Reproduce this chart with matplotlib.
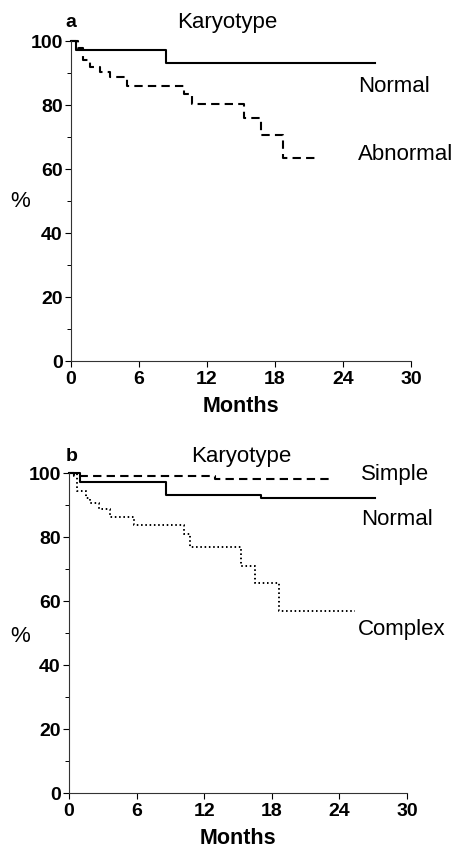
import matplotlib
matplotlib.use("Agg")
import matplotlib.pyplot as plt

plt.rcParams["font.family"] = ["Liberation Sans", "DejaVu Sans"]

# panel a: karyotype normal vs abnormal (Kaplan-Meier steps)
a_normal_t = [0, 0.4, 8.4, 26.8]
a_normal_s = [100, 97.2, 93.0, 93.0]
a_abnormal_t = [0, 0.6, 1.1, 1.7, 2.6, 3.4, 4.9, 10.0, 10.7, 15.3, 16.8, 18.7, 21.6]
a_abnormal_s = [100, 97.7, 94.0, 92.0, 90.4, 88.6, 85.9, 83.4, 80.3, 75.8, 70.6, 63.5, 63.5]

# panel b: simple / normal / complex
b_simple_t = [0, 0.4, 13.0, 23.4]
b_simple_s = [100, 99.0, 98.0, 98.0]
b_normal_t = [0, 1.0, 8.6, 17.0, 27.2]
b_normal_s = [100, 97.1, 93.0, 92.2, 92.2]
b_complex_t = [0, 0.7, 1.5, 1.9, 2.7, 3.6, 5.8, 10.2, 10.7, 15.3, 16.5, 18.6, 25.4]
b_complex_s = [100, 94.5, 92.2, 90.7, 88.6, 86.3, 83.8, 80.8, 76.8, 70.9, 65.7, 57.0, 57.0]

x_ticks = [0, 6, 12, 18, 24, 30]
y_ticks = [0, 20, 40, 60, 80, 100]

W, H = 457, 850
fig = plt.figure(figsize=(W / 100, H / 100), dpi=100)

LAB = 16  # curve labels, titles


def make_axes(left, right, top, bottom):
    # pixel box -> figure fraction
    return fig.add_axes([left / W, 1 - bottom / H, (right - left) / W, (bottom - top) / H])


def style(ax):
    ax.set_xlim(0, 30)
    ax.set_ylim(0, 100)
    for s in ["top", "right"]:
        ax.spines[s].set_visible(False)
    for s in ["left", "bottom"]:
        ax.spines[s].set_linewidth(0.8)
        ax.spines[s].set_color("#333333")
    ax.set_xticks(x_ticks)
    ax.set_yticks(y_ticks)
    ax.set_yticks([10, 30, 50, 70, 90], minor=True)
    ax.tick_params(direction="out", length=4, width=0.8, labelsize=14, pad=2)
    ax.tick_params(axis="x", pad=3)
    ax.tick_params(axis="y", which="minor", direction="out", length=3, width=0.7)
    for lab in ax.get_xticklabels() + ax.get_yticklabels():
        lab.set_fontweight("bold")
    ax.set_xlabel("Months", fontsize=15.5, fontweight="bold", labelpad=6)


ax1 = make_axes(71, 411, 41, 361)
style(ax1)
ax1.step(a_normal_t, a_normal_s, where="post", color="black", lw=1.5, clip_on=False)
ax1.step(a_abnormal_t, a_abnormal_s, where="post", color="black", lw=1.5,
         linestyle=(0, (4, 2.5)), clip_on=False)
ax1.text(0, 105.7, "a", fontsize=14, fontweight="bold", ha="center", va="center")
ax1.text(13.8, 105.7, "Karyotype", fontsize=LAB, ha="center", va="center")
ax1.text(25.3, 85.7, "Normal", fontsize=LAB, ha="left", va="center")
ax1.text(25.3, 64.4, "Abnormal", fontsize=LAB, ha="left", va="center")
ax1.text(-4.5, 49.8, "%", fontsize=LAB, ha="center", va="center")

ax2 = make_axes(69, 407, 473, 793)
style(ax2)
ax2.step(b_simple_t, b_simple_s, where="post", color="black", lw=1.5,
         linestyle=(0, (4, 2.5)), clip_on=False)
ax2.step(b_normal_t, b_normal_s, where="post", color="black", lw=1.5, clip_on=False)
ax2.step(b_complex_t, b_complex_s, where="post", color="black", lw=1.4,
         linestyle=(0, (0.8, 1.4)), clip_on=False)
ax2.text(0.2, 105.2, "b", fontsize=14, fontweight="bold", ha="center", va="center")
ax2.text(15.3, 105.2, "Karyotype", fontsize=LAB, ha="center", va="center")
ax2.text(25.9, 99.5, "Simple", fontsize=LAB, ha="left", va="center")
ax2.text(25.9, 85.5, "Normal", fontsize=LAB, ha="left", va="center")
ax2.text(25.6, 51.1, "Complex", fontsize=LAB, ha="left", va="center")
ax2.text(-4.3, 49.0, "%", fontsize=LAB, ha="center", va="center")

fig.savefig("out.png", dpi=100)
